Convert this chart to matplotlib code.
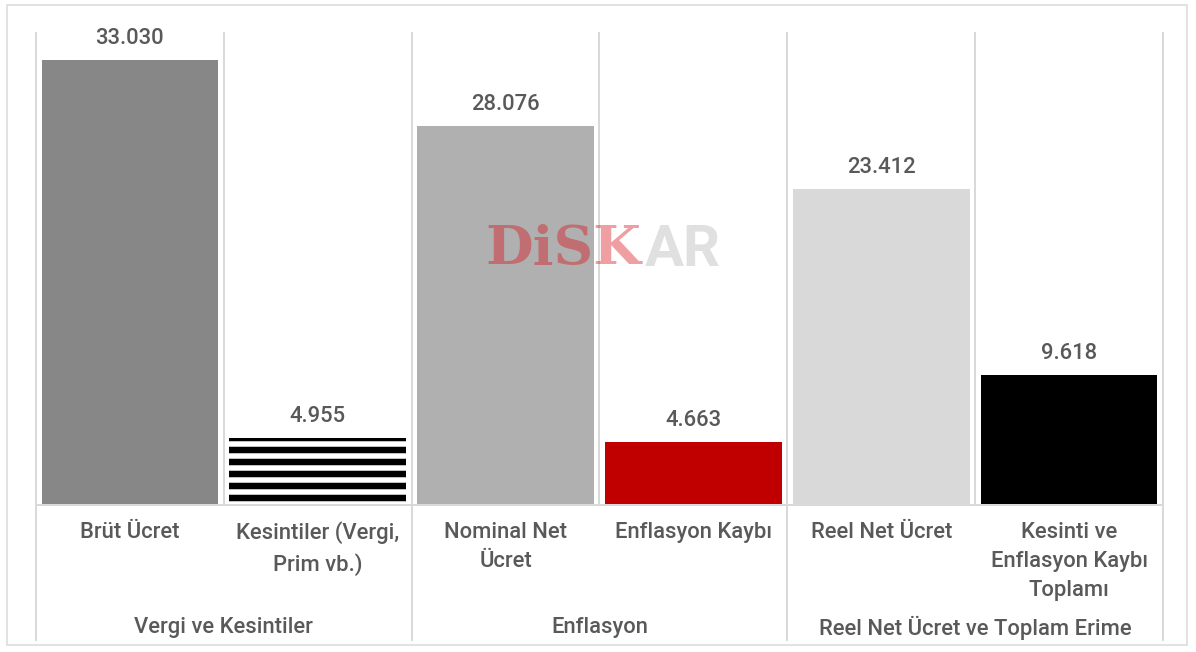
import matplotlib.pyplot as plt
from matplotlib.patches import Rectangle
from matplotlib.transforms import blended_transform_factory

plt.rcParams['font.family'] = ['Roboto', 'DejaVu Sans']
plt.rcParams['hatch.linewidth'] = 6.5

kategoriler = ["Brüt Ücret", "Kesintiler (Vergi,\nPrim vb.)", "Nominal Net\nÜcret",
               "Enflasyon Kaybı", "Reel Net Ücret", "Kesinti ve\nEnflasyon Kaybı\nToplamı"]
degerler = [33030, 4955, 28076, 4663, 23412, 9618]
gruplar = ["Vergi ve Kesintiler", "Enflasyon", "Reel Net Ücret ve Toplam Erime"]
grup_boyu = 2

renkler = ['#878787', 'white', '#b0b0b0', '#c00000', '#d9d9d9', '#000000']
taramalar = [None, '-', None, None, None, None]
yazi_rengi = '#595959'
cizgi_rengi = '#d9d9d9'

W, H, DPI = 1196, 652, 72
fig = plt.figure(figsize=(W / DPI, H / DPI), dpi=DPI)
ax = fig.add_axes([36 / W, (H - 505) / H, (1163 - 36) / W, (505 - 33) / H])

for i, v in enumerate(degerler):
    ax.bar(i, v, width=0.94, color=renkler[i], hatch=taramalar[i],
           edgecolor='black' if taramalar[i] else renkler[i], linewidth=0, zorder=2)
    ax.annotate(f"{v:,}".replace(',', '.'), (i, v), xytext=(0, 16), textcoords='offset points',
                ha='center', va='baseline', fontsize=22, color=yazi_rengi, fontweight=500)

ax.set_xlim(-0.5, len(degerler) - 0.5)
ax.set_ylim(0, 35000)
ax.set_yticks([])
ax.set_xticks([])
for s in ['top', 'left', 'right']:
    ax.spines[s].set_visible(False)
ax.spines['bottom'].set_color(cizgi_rengi)
ax.spines['bottom'].set_linewidth(2)

tr = blended_transform_factory(ax.transData, ax.transAxes)
for k in range(len(degerler) + 1):
    xs = k - 0.5
    alt = -0.286 if k % grup_boyu == 0 else 0
    ax.plot([xs, xs], [alt, 1], transform=tr, color=cizgi_rengi, lw=2, clip_on=False, zorder=1)

for i, lab in enumerate(kategoriler):
    ax.text(i, -0.035, lab, transform=tr, ha='center', va='top', fontsize=22,
            color=yazi_rengi, linespacing=1.5, fontweight=500)

for g, lab in enumerate(gruplar):
    ax.text(g * grup_boyu + (grup_boyu - 1) / 2, -0.26, lab, transform=tr, ha='center',
            va='center', fontsize=22, color=yazi_rengi, fontweight=500)

# filigran
fig.text(641 / W, 1 - 250 / H, "DiSK", ha='right', va='center', fontsize=55,
         fontweight='bold', family='DejaVu Serif', color=(0.85, 0.05, 0.08), alpha=0.4)
fig.text(645 / W, 1 - 250 / H, "AR", ha='left', va='center', fontsize=58,
         fontweight='bold', color='#dddddd', alpha=0.9)

fig.patches.append(Rectangle((7 / W, 1 - 645 / H), 1180 / W, 640 / H, transform=fig.transFigure,
                             fill=False, edgecolor=cizgi_rengi, lw=1.5))

fig.savefig('out.png', dpi=DPI)
